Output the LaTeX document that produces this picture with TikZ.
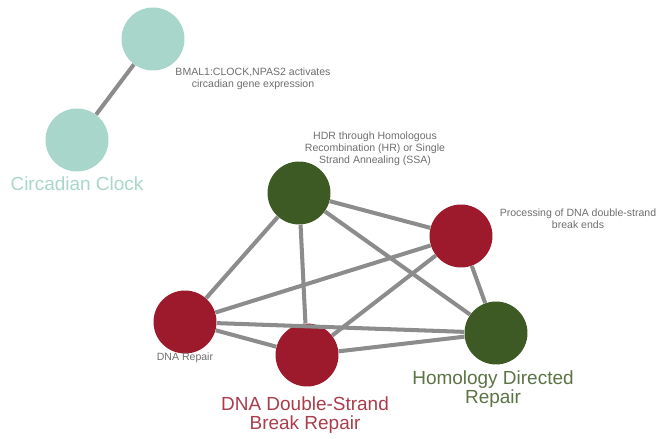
\documentclass[tikz,border=0pt]{standalone}
\usepackage{fontspec}
\setmainfont{Liberation Sans}
\usetikzlibrary{positioning}

\definecolor{teal}{HTML}{A9D6CA}
\definecolor{dgreen}{HTML}{3E5A24}
\definecolor{dred}{HTML}{9C1A2B}
\definecolor{edgegray}{HTML}{8C8C8C}
\definecolor{smalltext}{HTML}{6E6E6E}

\begin{document}
\begin{tikzpicture}[
        x=0.02cm, y=-0.02cm,
        term/.style = {circle, minimum size=1.26cm, inner sep=0pt},
        link/.style = {edgegray, line width=2.3pt},
        small/.style = {font=\fontsize{6}{6.9}\selectfont, text=smalltext, align=center},
        big/.style = {font=\fontsize{10.8}{11}\selectfont, align=center}
    ]
    \useasboundingbox (0,0) rectangle (667,439);

    % Circles
    \node[term, fill=teal] (bmal) at (153,39) {};
    \node[term, fill=teal] (clock) at (77,140) {};
    \node[term, fill=dgreen] (hdr) at (299,193) {};
    \node[term, fill=dred] (proc) at (461,236) {};
    \node[term, fill=dred] (repair) at (185,322) {};
    \node[term, fill=dred] (dsb) at (307,355) {};
    \node[term, fill=dgreen] (hom) at (496,333) {};

    % Edges
    \draw[link] (bmal) -- (clock);
    \draw[link] (hdr) -- (proc);
    \draw[link] (hdr) -- (repair);
    \draw[link] (hdr) -- (dsb);
    \draw[link] (hdr) -- (hom);
    \draw[link] (proc) -- (repair);
    \draw[link] (proc) -- (dsb);
    \draw[link] (proc) -- (hom);
    \draw[link] (repair) -- (dsb);
    \draw[link] (repair) -- (hom);
    \draw[link] (dsb) -- (hom);

    % Labels
    \node[small] (bmallab) at (253,79) {BMAL1:CLOCK,NPAS2 activates\\circadian gene expression};
    \node[small] (hdrlab) at (375,149) {HDR through Homologous\\Recombination (HR) or Single\\Strand Annealing (SSA)};
    \node[small] (proclab) at (578,219) {Processing of DNA double-strand\\break ends};
    \node[small] (replab) at (185,358) {DNA Repair};
    \node[big, text=teal] (clocklab) at (77,184) {Circadian Clock};
    \node[big, text=dred!85!white] (dsblab) at (305,415) {DNA Double-Strand\\Break Repair};
    \node[big, text=dgreen!85!white] (homlab) at (493,389) {Homology Directed\\Repair};

\end{tikzpicture}
\end{document}
